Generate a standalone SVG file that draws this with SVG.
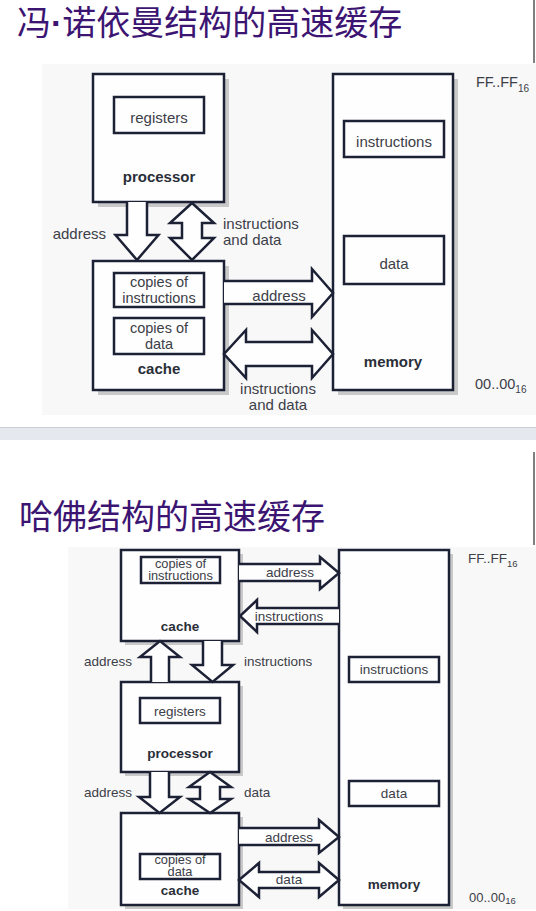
<svg xmlns="http://www.w3.org/2000/svg" width="536" height="911" viewBox="0 0 536 911">
<style>
.title{font-family:"Noto Sans CJK SC","Noto Sans CJK TC",sans-serif;font-size:34px;fill:#3c1472}
.dot{font-family:"Liberation Sans",Arial,sans-serif;font-weight:bold}
.panel{fill:#f8f8f8}
.box{fill:#fefefe;stroke:#1c2135;stroke-width:2.5}
.shadow{fill:#c9c9c9}
.inner{fill:#fefefe;stroke:#1c2135;stroke-width:2.5}
.arrow{fill:#fefefe;stroke:#1c2135;stroke-width:2.5;stroke-miterlimit:10}
.t{font-family:"Liberation Sans",Arial,sans-serif;fill:#3c4048}
.s15{font-size:15px}
.s145{font-size:14.5px}
.s14{font-size:13.5px}
.s13{font-size:12.8px}
.b{font-weight:bold;fill:#2a2e38}
.mid{text-anchor:middle}
.end{text-anchor:end}
.edge{stroke:#555;stroke-width:1.5}
</style>
<rect width="536" height="911" fill="#ffffff"/>

<!-- slide 1 -->
<g id="title1"><text class="title" x="17" y="35">冯<tspan class="dot">·</tspan>诺依曼结构的高速缓存</text></g>
<line class="edge" x1="534" y1="0" x2="534" y2="63"/>
<rect class="panel" x="42" y="64" width="494" height="351"/>

<g id="processor1">
<rect class="shadow" x="98" y="79" width="131" height="128"/>
<rect class="box" x="93" y="74" width="131" height="128"/>
<rect class="inner" x="114" y="97" width="90" height="36"/>
<text class="t s15 mid" x="159" y="123">registers</text>
<text class="t s15 b mid" x="159" y="182">processor</text>
</g>

<g id="cache1">
<rect class="shadow" x="98" y="266" width="131" height="129"/>
<rect class="box" x="93" y="261" width="131" height="129"/>
<rect class="inner" x="114" y="273" width="90" height="34"/>
<text class="t s145 mid" x="159" y="287">copies of</text>
<text class="t s145 mid" x="159" y="303">instructions</text>
<rect class="inner" x="114" y="318" width="90" height="36"/>
<text class="t s145 mid" x="159" y="333">copies of</text>
<text class="t s145 mid" x="159" y="349">data</text>
<text class="t s15 b mid" x="159" y="374">cache</text>
</g>

<g id="memory1">
<rect class="shadow" x="338" y="79" width="120" height="316"/>
<rect class="box" x="333" y="74" width="120" height="316"/>
<rect class="inner" x="344" y="121" width="100" height="36"/>
<text class="t s15 mid" x="394" y="147">instructions</text>
<rect class="inner" x="344" y="236" width="100" height="48"/>
<text class="t s15 mid" x="394" y="269">data</text>
<text class="t s15 b mid" x="393" y="367">memory</text>
<text class="t" x="476" y="87" font-size="14.5">FF..FF<tspan font-size="10" dy="5">16</tspan></text>
<text class="t" x="475" y="389" font-size="14.5">00..00<tspan font-size="10" dy="4">16</tspan></text>
</g>

<g id="connectors1">
<path class="arrow" d="M127,202 V235 H115.5 L137,260 L158.5,235 H147 V202"/>
<path class="arrow" d="M192,203 L214,223 H202 V238 H214 L192,260 L170,238 H182 V223 H170 Z"/>
<path class="arrow" d="M224,281 H312 V269 L333,293 L312,317 V304 H224"/>
<path class="arrow" d="M224,354 L246,330 V342 H312 V330 L333,354 L312,378 V366 H246 V378 Z"/>
<text class="t s15 end" x="106" y="239">address</text>
<text class="t s15" x="223" y="229">instructions</text>
<text class="t s15" x="223" y="245">and data</text>
<text class="t s15 mid" x="279" y="301">address</text>
<text class="t s15 mid" x="278" y="394">instructions</text>
<text class="t s15 mid" x="278" y="410">and data</text>
</g>

<!-- separator -->
<rect x="0" y="427" width="536" height="13" fill="#e5e9ef"/>
<line x1="0" y1="427.5" x2="536" y2="427.5" stroke="#ccd0d6" stroke-width="1"/>

<!-- slide 2 -->
<line class="edge" x1="534" y1="452" x2="534" y2="545"/>
<g id="title2"><text class="title" x="19" y="529">哈佛结构的高速缓存</text></g>
<rect class="panel" x="68" y="547" width="468" height="362"/>

<g id="cacheI">
<rect class="shadow" x="125" y="554" width="118" height="91"/>
<rect class="box" x="121" y="550" width="118" height="91"/>
<rect class="inner" x="141" y="557" width="79" height="26"/>
<text class="t s13 mid" x="180.5" y="567.5">copies of</text>
<text class="t s13 mid" x="180.5" y="579.5">instructions</text>
<text class="t s14 b mid" x="180" y="631">cache</text>
</g>

<g id="processor2">
<rect class="shadow" x="125" y="686" width="118" height="90"/>
<rect class="box" x="121" y="682" width="118" height="90"/>
<rect class="inner" x="140" y="698" width="80" height="25"/>
<text class="t s14 mid" x="180" y="716">registers</text>
<text class="t s14 b mid" x="180" y="758">processor</text>
</g>

<g id="cacheD">
<rect class="shadow" x="125" y="817" width="118" height="92"/>
<rect class="box" x="121" y="813" width="118" height="92"/>
<rect class="inner" x="140" y="854" width="80" height="25"/>
<text class="t s13 mid" x="180" y="864">copies of</text>
<text class="t s13 mid" x="180" y="876">data</text>
<text class="t s14 b mid" x="180" y="895">cache</text>
</g>

<g id="memory2">
<rect class="shadow" x="343" y="554" width="110" height="355"/>
<rect class="box" x="339" y="550" width="110" height="355"/>
<rect class="inner" x="349" y="657" width="90" height="25"/>
<text class="t s14 mid" x="394" y="674">instructions</text>
<rect class="inner" x="349" y="781" width="90" height="25"/>
<text class="t s14 mid" x="394" y="798">data</text>
<text class="t s14 b mid" x="394" y="889">memory</text>
<text class="t" x="468" y="563" font-size="13.5">FF..FF<tspan font-size="9.5" dy="4">16</tspan></text>
<text class="t" x="469" y="902" font-size="13">00..00<tspan font-size="9.5" dy="2">16</tspan></text>
</g>

<g id="connectors2">
<path class="arrow" d="M239,564 H320 V557 L339,573 L320,589 V581 H239"/>
<path class="arrow" d="M339,608 H257 V600 L240,616 L257,632 V624 H339"/>
<path class="arrow" d="M151,682 V657 H140 L160,641 L180,657 H169 V682"/>
<path class="arrow" d="M203,641 V665 H192 L212.5,682 L233,665 H222 V641"/>
<path class="arrow" d="M150,772 V797 H139 L159.5,813 L180,797 H169 V772"/>
<path class="arrow" d="M210,772 L231,787 H220 V799 H231 L210,813 L189,799 H200 V787 H189 Z"/>
<path class="arrow" d="M239,828 H319 V820 L339,837 L319,853 V845 H239"/>
<path class="arrow" d="M239,880 L259,863 V872 H319 V863 L339,880 L319,897 V888 H259 V897 Z"/>
<text class="t s14 mid" x="290" y="577">address</text>
<text class="t s14 mid" x="289" y="621">instructions</text>
<text class="t s14 end" x="132" y="666">address</text>
<text class="t s14" x="244" y="666">instructions</text>
<text class="t s14 end" x="132" y="797">address</text>
<text class="t s14" x="244" y="797">data</text>
<text class="t s14 mid" x="289" y="842">address</text>
<text class="t s14 mid" x="289" y="884">data</text>
</g>
</svg>
